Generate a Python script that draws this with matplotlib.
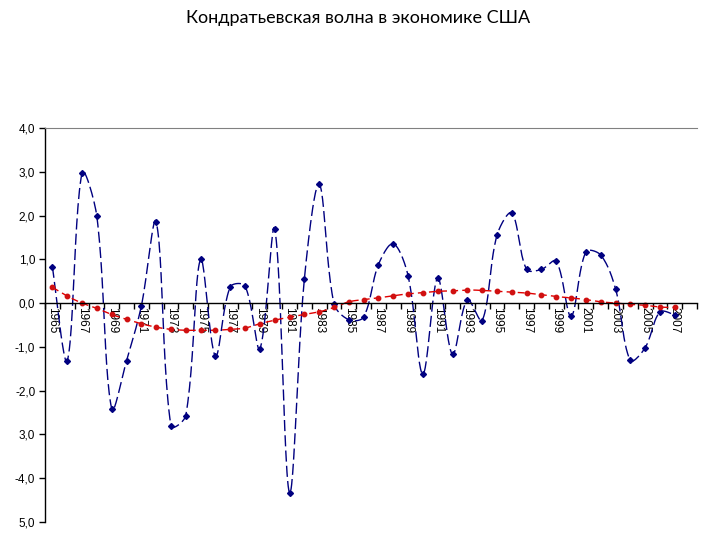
import numpy as np
import matplotlib.pyplot as plt

# Data
years = list(range(1965, 2008))
wave = [0.83, -1.32, 2.98, 1.98, -2.42, -1.32, -0.07, 1.86, -2.81, -2.57,
        1.0, -1.21, 0.37, 0.39, -1.04, 1.70, -4.33, 0.54, 2.72, -0.01,
        -0.38, -0.32, 0.88, 1.36, 0.63, -1.62, 0.57, -1.17, 0.08, -0.4,
        1.55, 2.06, 0.77, 0.77, 0.96, -0.3, 1.17, 1.1, 0.33, -1.31,
        -1.02, -0.2, -0.27]
trend = [0.36, 0.16, 0.0, -0.12, -0.26, -0.37, -0.47, -0.55, -0.6, -0.62,
         -0.62, -0.62, -0.6, -0.57, -0.47, -0.39, -0.32, -0.26, -0.2, -0.1,
         0.03, 0.08, 0.12, 0.17, 0.21, 0.24, 0.27, 0.28, 0.3, 0.29,
         0.27, 0.25, 0.23, 0.19, 0.15, 0.12, 0.08, 0.03, 0.0, -0.03,
         -0.05, -0.09, -0.1]
ytick_labels = ['5,0', '-4,0', '3,0', '-2,0', '-1,0', '0,0', '1,0', '2,0', '3,0', '4,0']
title = 'Кондратьевская волна в экономике США'

# screen scale (px per year, px per unit) used for the smoothing
SX, SY = 14.82, 43.8


def smooth(xs, ys, n=24):
    # Excel-like smoothed line: Bezier, control points weighted by chord length
    p = np.column_stack([np.asarray(xs, float) * SX, np.asarray(ys, float) * SY])
    m = len(p)
    tang = np.zeros_like(p)
    for i in range(m):
        tang[i] = p[min(i + 1, m - 1)] - p[max(i - 1, 0)]
    d = np.linalg.norm(np.diff(p, axis=0), axis=1)
    out = []
    for i in range(m - 1):
        p0, p3 = p[i], p[i + 1]
        if i == 0:
            c1 = p0 + tang[i] / 6
        else:
            c1 = p0 + tang[i] * d[i] / (d[i - 1] + d[i]) / 3
        if i + 1 == m - 1:
            c2 = p3 - tang[i + 1] / 6
        else:
            c2 = p3 - tang[i + 1] * d[i] / (d[i] + d[i + 1]) / 3
        t = np.linspace(0, 1, n, endpoint=False)[:, None]
        out.append((1 - t)**3 * p0 + 3 * (1 - t)**2 * t * c1 + 3 * (1 - t) * t**2 * c2 + t**3 * p3)
    out.append(p[-1:])
    pts = np.vstack(out)
    return pts[:, 0] / SX, pts[:, 1] / SY


plt.rcParams['font.family'] = ['Liberation Sans', 'DejaVu Sans']

fig = plt.figure(figsize=(7.2, 5.4), dpi=100)
ax = fig.add_axes([45 / 720, 1 - 522 / 540, 652 / 720, 394 / 540])

bx, by = smooth(years, wave)
ax.plot(bx, by, color='#000080', lw=1.0, dashes=(8, 3))
ax.plot(years, wave, ls='none', marker='D', ms=3, color='#000080')

rx, ry = smooth(years, trend)
ax.plot(rx, ry, color='#e00000', lw=1.0, dashes=(5, 3))
ax.plot(years, trend, ls='none', marker='o', ms=3.2, color='#d01010')

ax.set_xlim(1964.5, 2008.5)
ax.set_ylim(-5, 4)

# axes look
ax.spines['right'].set_visible(False)
ax.spines['top'].set_color('#808080')
ax.spines['bottom'].set_position(('data', 0))
ax.spines['left'].set_linewidth(1.0)
ax.spines['bottom'].set_linewidth(1.0)

ax.set_yticks(np.arange(-5, 5))
ax.set_yticklabels(ytick_labels, fontsize=8.5)
ax.tick_params(axis='y', direction='out', length=4, width=1, pad=3)

ax.set_xticks(years[::2])
ax.set_xticklabels([str(y) for y in years[::2]], rotation=-90, fontsize=8.5)
ax.set_xticks(np.arange(1964.5, 2008.6, 1), minor=True)
ax.tick_params(axis='x', which='major', length=0, pad=3)
ax.tick_params(axis='x', which='minor', direction='out', length=4, width=1)

fig.text(0.497, 1 - 18 / 540, title, ha='center', va='center', fontsize=13,
         family=['Lato', 'DejaVu Sans'])

fig.savefig('out.png', dpi=100)
